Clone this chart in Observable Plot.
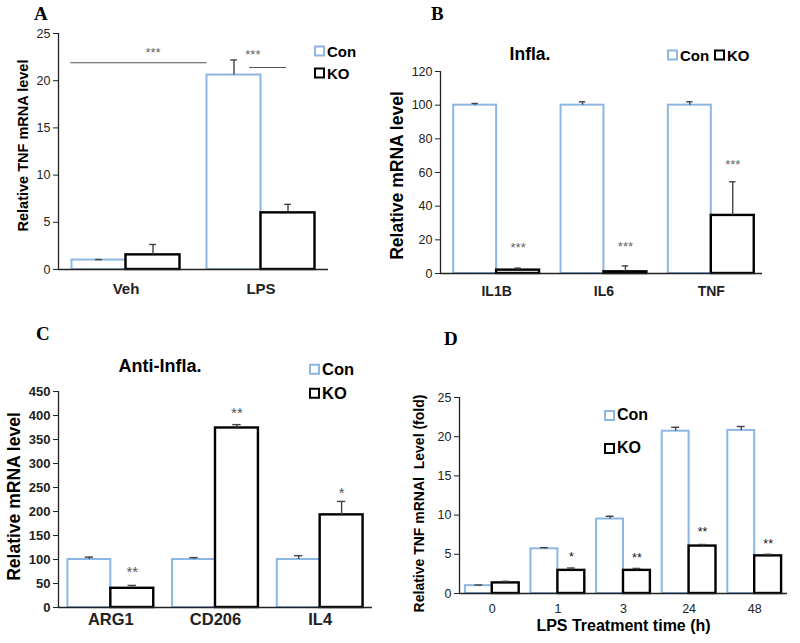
<!DOCTYPE html>
<html><head><meta charset="utf-8">
<script src="https://cdn.jsdelivr.net/npm/d3@7"></script>
<script src="https://cdn.jsdelivr.net/npm/@observablehq/plot@0.6"></script>
<style>
body{margin:0;background:#fff;}
#root{position:relative;width:800px;height:643px;overflow:hidden;font-family:"Liberation Sans",Arial,sans-serif;color:#000;}
.panel{position:absolute;}
.lbl{position:absolute;font-family:"Liberation Serif","Times New Roman",serif;font-weight:bold;font-size:19px;line-height:1;}
.leg{position:absolute;font-weight:bold;display:flex;align-items:center;white-space:nowrap;line-height:1;transform:translateY(-50%);}
.sw{display:inline-block;box-sizing:border-box;border:2px solid;background:#fff;margin-right:2px;}
.title{position:absolute;font-weight:bold;transform:translate(-50%,-50%);white-space:nowrap;line-height:1;}
</style></head>
<body><div id="root"></div>
<script>
// ---------- Data ----------
const groups = ["Con", "KO"];
const groupColors = ["#8db6e2", "#000000"];

// Panel A
const aCats = ["Veh", "LPS"];
const aCon = [1.0, 20.6];
const aConErr = [0.05, 1.6];
const aKO = [1.55, 6.0];
const aKOErr = [1.1, 0.9];
const aYTicks = [0, 5, 10, 15, 20, 25];
const aSigText = ["***", "***"];
const aSigX = [0.2, 0.94];
const aSigY = [23.0, 22.7];
const aLineY = [21.9, 21.4];
const aLineX1 = [-0.41, 0.915];
const aLineX2 = [0.6, 1.19];

// Panel B
const bCats = ["IL1B", "IL6", "TNF"];
const bCon = [100, 100, 100];
const bConErr = [1, 2, 2];
const bKO = [2, 1, 34.5];
const bKOErr = [1.2, 3.5, 20];
const bYTicks = [0, 20, 40, 60, 80, 100, 120];
const bSigText = ["***", "***", "***"];
const bSigY = [15.5, 15.8, 64.8];

// Panel C
const cCats = ["ARG1", "CD206", "IL4"];
const cCon = [100, 100, 100];
const cConErr = [5, 4, 8];
const cKO = [40, 374, 193];
const cKOErr = [6, 7, 28];
const cYTicks = [0, 50, 100, 150, 200, 250, 300, 350, 400, 450];
const cSigText = ["**", "**", "*"];
const cSigY = [74, 405, 238];

// Panel D
const dCats = ["0", "1", "3", "24", "48"];
const dCon = [1.0, 5.7, 9.5, 20.7, 20.8];
const dConErr = [0.08, 0.15, 0.35, 0.5, 0.5];
const dKO = [1.35, 2.95, 2.95, 6.05, 4.8];
const dKOErr = [0.2, 0.3, 0.25, 0.2, 0.2];
const dYTicks = [0, 5, 10, 15, 20, 25];
const dSigText = ["", "*", "**", "**", "**"];
const dSigY = [0, 4.6, 4.5, 7.8, 6.3];

// ---------- Drawing ----------
function buildRows(cats, con, conErr, ko, koErr, hw) {
  const rows = [];
  cats.forEach((c, i) => {
    rows.push({cat: c, g: 0, x1: i - hw, x2: i, c: i - hw / 2, y: con[i], top: con[i] + conErr[i]});
    rows.push({cat: c, g: 1, x1: i, x2: i + hw, c: i + hw / 2, y: ko[i], top: ko[i] + koErr[i]});
  });
  return rows;
}

function panel(cfg) {
  const rows = buildRows(cfg.cats, cfg.con, cfg.conErr, cfg.ko, cfg.koErr, cfg.hw);
  const n = cfg.cats.length;
  const ymax = cfg.yTicks[cfg.yTicks.length - 1];
  const xlo = -0.5 + (cfg.shift || 0), xhi = n - 0.5 + (cfg.shift || 0);
  const sig = cfg.sigText.map((t, i) => ({t, x: cfg.sigX ? cfg.sigX[i] : i + cfg.hw / 2, y: cfg.sigY[i]})).filter(d => d.t);
  const marks = [
    Plot.ruleX([xlo], {y1: 0, y2: ymax, stroke: cfg.axisColor, strokeWidth: 1.3}),
    Plot.rect(rows.filter(d => d.g === 0), {x1: "x1", x2: "x2", y1: () => 0, y2: "y", fill: "white", stroke: groupColors[0], strokeWidth: 2}),
    Plot.rect(rows.filter(d => d.g === 1), {x1: "x1", x2: "x2", y1: () => 0, y2: "y", fill: "white", stroke: groupColors[1], strokeWidth: 2.4}),
    Plot.ruleX(rows, {x: "c", y1: "y", y2: "top", stroke: "#444", strokeWidth: 1.4}),
    Plot.ruleY(rows, {y: "top", x1: d => d.c - cfg.cap, x2: d => d.c + cfg.cap, stroke: "#444", strokeWidth: 1.4}),
    Plot.ruleY([0], {stroke: cfg.axisColor, strokeWidth: 1.3}),
    Plot.text(sig, {x: "x", y: "y", text: "t", fontSize: cfg.sigSize, fill: cfg.sigColor, fontWeight: cfg.sigWeight || "normal"}),
    Plot.axisY({ticks: cfg.yTicks, tickSize: 5, tickPadding: 3, fontSize: cfg.yTickSize, fontWeight: cfg.yTickWeight, label: null, stroke: cfg.axisColor}),
    Plot.axisX({ticks: d3.range(n), tickFormat: i => cfg.cats[i], tickSize: 0, tickPadding: cfg.xTickPad, fontSize: cfg.xTickSize, fontWeight: cfg.xTickWeight, label: null}),
    Plot.text([cfg.ylabel], {text: d => d, frameAnchor: "left", textAnchor: "middle", lineAnchor: "middle", rotate: -90, dx: cfg.ylabelDx, dy: cfg.ylabelDy || 0, fontSize: cfg.ylabelSize, fontWeight: "bold", fill: "#000"})
  ];
  if (cfg.lines) {
    marks.push(Plot.ruleY(cfg.lines, {y: "y", x1: "x1", x2: "x2", stroke: "#555", strokeWidth: 1.2}));
  }
  if (cfg.xlabel) {
    marks.push(Plot.text([cfg.xlabel], {text: d => d, frameAnchor: "bottom", dy: cfg.xlabelDy, fontSize: cfg.xlabelSize, fontWeight: "bold", fill: "#000"}));
  }
  const svg = Plot.plot({
    width: 400, height: cfg.height,
    marginLeft: cfg.ml, marginRight: cfg.mr, marginTop: cfg.mt, marginBottom: cfg.mb,
    x: {type: "linear", domain: [xlo, xhi]},
    y: {domain: [0, ymax]},
    style: {fontFamily: "'Liberation Sans', Arial, sans-serif", color: "#222", background: "white", overflow: "visible"},
    marks
  });
  svg.classList.add("panel");
  svg.style.left = cfg.left + "px";
  svg.style.top = cfg.top + "px";
  return svg;
}

const root = document.getElementById("root");

root.appendChild(panel({
  left: 0, top: 0, height: 320, ml: 58, mr: 72, mt: 33, mb: 51, hw: 0.4, cap: 0.025,
  cats: aCats, con: aCon, conErr: aConErr, ko: aKO, koErr: aKOErr, yTicks: aYTicks,
  sigText: aSigText, sigX: aSigX, sigY: aSigY, sigSize: 13, sigColor: "#666",
  lines: aLineY.map((y, i) => ({y, x1: aLineX1[i], x2: aLineX2[i]})),
  axisColor: "#222", yTickSize: 12.5, yTickWeight: "normal", xTickSize: 15, xTickWeight: "bold", xTickPad: 14,
  ylabel: "Relative TNF mRNA level", ylabelDx: -35, ylabelDy: -6, ylabelSize: 14.5
}));

root.appendChild(panel({
  left: 400, top: 0, height: 320, ml: 40, mr: 38, mt: 71, mb: 47, hw: 0.4, cap: 0.03, shift: -0.023,
  cats: bCats, con: bCon, conErr: bConErr, ko: bKO, koErr: bKOErr, yTicks: bYTicks,
  sigText: bSigText, sigY: bSigY, sigSize: 13, sigColor: "#666",
  axisColor: "#222", yTickSize: 12.5, yTickWeight: "normal", xTickSize: 14, xTickWeight: "bold", xTickPad: 13,
  ylabel: "Relative mRNA level", ylabelDx: -43, ylabelDy: 3, ylabelSize: 17.5
}));

root.appendChild(panel({
  left: 0, top: 320, height: 323, ml: 58, mr: 28, mt: 71, mb: 36, hw: 0.41, cap: 0.04,
  cats: cCats, con: cCon, conErr: cConErr, ko: cKO, koErr: cKOErr, yTicks: cYTicks,
  sigText: cSigText, sigY: cSigY, sigSize: 15, sigColor: "#555",
  axisColor: "#222", yTickSize: 13, yTickWeight: "bold", xTickSize: 16.5, xTickWeight: "bold", xTickPad: 6,
  ylabel: "Relative mRNA level", ylabelDx: -44, ylabelDy: -3, ylabelSize: 17.5
}));

root.appendChild(panel({
  left: 400, top: 320, height: 323, ml: 59, mr: 13, mt: 77, mb: 50, hw: 0.41, cap: 0.06,
  cats: dCats, con: dCon, conErr: dConErr, ko: dKO, koErr: dKOErr, yTicks: dYTicks,
  sigText: dSigText, sigY: dSigY, sigSize: 12.5, sigColor: "#111",
  axisColor: "#222", yTickSize: 12.5, yTickWeight: "normal", xTickSize: 12.5, xTickWeight: "normal", xTickPad: 11,
  ylabel: "Relative TNF mRNAl \u00a0Level (fold)", ylabelDx: -40, ylabelDy: 8, ylabelSize: 14,
  xlabel: "LPS Treatment time (h)", xlabelDy: 37, xlabelSize: 16
}));

// ---------- Annotations (HTML) ----------
function addText(cls, text, x, y, size) {
  const el = document.createElement("div");
  el.className = cls; el.textContent = text;
  el.style.left = x + "px"; el.style.top = y + "px";
  if (size) el.style.fontSize = size + "px";
  root.appendChild(el);
}
function addLegend(gi, x, y, size, box) {
  const el = document.createElement("div");
  el.className = "leg";
  el.style.left = x + "px"; el.style.top = y + "px"; el.style.fontSize = size + "px";
  const sw = document.createElement("span");
  sw.className = "sw"; sw.style.width = box + "px"; sw.style.height = box + "px";
  sw.style.borderColor = groupColors[gi];
  sw.style.borderWidth = gi === 0 ? "2px" : "2.5px";
  el.appendChild(sw);
  el.appendChild(document.createTextNode(groups[gi]));
  root.appendChild(el);
}
const panelLetters = ["A", "B", "C", "D"];
addText("lbl", panelLetters[0], 34, 4);
addText("lbl", panelLetters[1], 431, 4);
addText("lbl", panelLetters[2], 36, 324);
addText("lbl", panelLetters[3], 444, 329);

const panelTitles = ["Infla.", "Anti-Infla."];
addText("title", panelTitles[0], 530, 55, 17.5);
addText("title", panelTitles[1], 160, 366, 18);

addLegend(0, 314, 51, 15, 11);
addLegend(1, 314, 73, 15, 11);
addLegend(0, 667, 55, 15, 11);
addLegend(1, 714, 55, 15, 11);
addLegend(0, 309, 369, 16.5, 11);
addLegend(1, 309, 393, 16.5, 11);
addLegend(0, 604, 415, 16, 11);
addLegend(1, 604, 448, 16, 11);
</script>
</body></html>
